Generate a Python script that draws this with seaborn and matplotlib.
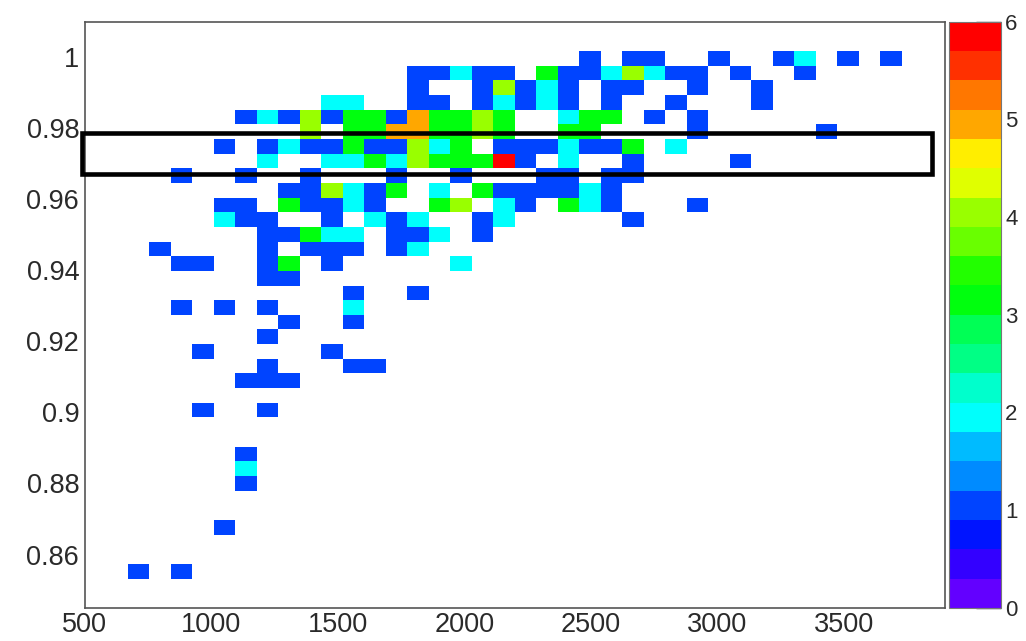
import colorsys

import numpy as np
import pandas as pd
import matplotlib
matplotlib.use("Agg")
import matplotlib.pyplot as plt
from matplotlib.colors import ListedColormap
from matplotlib.patches import Rectangle
from matplotlib.ticker import MultipleLocator, FuncFormatter, FixedLocator
import seaborn as sns

# ---- binning of the 2D histogram ----
x_min, x_max, n_xbins = 500, 3900, 40
y_min, y_max, n_ybins = 0.845, 1.01, 40

# bin contents, one string per y bin from the top bin down ('.' = empty),
# 40 x bins per string written in groups of ten
counts_rows = [
    ".......... .......... .......... ..........",  # 39
    ".......... .......... .......... ..........",  # 38
    ".......... .......... ...1.11..1 ..12.1.1..",  # 37
    ".......... .....11211 .31124211. 1..1......",  # 36
    ".......... .....1..14 121.11..1. .1........",  # 35
    ".......... .22..11.12 121.1..1.. .1........",  # 34
    ".......121 4133153343 ..233.1.1. ..........",  # 33
    ".......... 4.33553343 ..33....1. ....1.....",  # 32
    "......1.12 11311423.1 112113.2.. ..........",  # 31
    "........2. .223243336 1.2..1.... 1.........",  # 30
    "....1..1.. 1...1..1.. .11.11.... ..........",  # 29
    ".........1 14213.2.31 11121..... ..........",  # 28
    "......11.3 1121..34.2 1.321...1. ..........",  # 27
    "......211. .1.212..12 .....1.... ..........",  # 26
    "........11 322.112.1. .......... ..........",  # 25
    "...1....1. 111.12.... .......... ..........",  # 24
    "....11..13 .1.....2.. .......... ..........",  # 23
    "........11 .......... .......... ..........",  # 22
    ".......... ..1..1.... .......... ..........",  # 21
    "....1.1.1. ..2....... .......... ..........",  # 20
    ".........1 ..1....... .......... ..........",  # 19
    "........1. .......... .......... ..........",  # 18
    ".....1.... .1........ .......... ..........",  # 17
    "........1. ..11...... .......... ..........",  # 16
    ".......111 .......... .......... ..........",  # 15
    ".......... .......... .......... ..........",  # 14
    ".....1..1. .......... .......... ..........",  # 13
    ".......... .......... .......... ..........",  # 12
    ".......... .......... .......... ..........",  # 11
    ".......1.. .......... .......... ..........",  # 10
    ".......2.. .......... .......... ..........",  # 9
    ".......1.. .......... .......... ..........",  # 8
    ".......... .......... .......... ..........",  # 7
    ".......... .......... .......... ..........",  # 6
    "......1... .......... .......... ..........",  # 5
    ".......... .......... .......... ..........",  # 4
    ".......... .......... .......... ..........",  # 3
    "..1.1..... .......... .......... ..........",  # 2
    ".......... .......... .......... ..........",  # 1
    ".......... .......... .......... ..........",  # 0
]

x_ticks = [500, 1000, 1500, 2000, 2500, 3000, 3500]
y_ticks = [0.86, 0.88, 0.90, 0.92, 0.94, 0.96, 0.98, 1.00]
z_ticks = [0, 1, 2, 3, 4, 5, 6]
z_max = 6

# highlighted band (x0, x1, y0, y1)
band_x = (489, 3847)
band_y = (0.9672, 0.9788)

# ---- build the weighted bin centres ----
grid = np.array([[0 if ch == "." else int(ch) for ch in r.replace(" ", "")]
                 for r in counts_rows])[::-1]          # row 0 = lowest y bin
x_edges = np.linspace(x_min, x_max, n_xbins + 1)
y_edges = np.linspace(y_min, y_max, n_ybins + 1)
x_cent = 0.5 * (x_edges[:-1] + x_edges[1:])
y_cent = 0.5 * (y_edges[:-1] + y_edges[1:])
iy, ix = np.nonzero(grid)
df = pd.DataFrame({"x": x_cent[ix], "y": y_cent[iy], "n": grid[iy, ix]})

# ROOT-like "pretty" palette: 20 contour levels, hue 280 -> 0
n_levels, n_pal = 20, 50
pal_colors = []
for k in range(n_levels):
    idx = int((k + 0.99) * n_pal / n_levels)
    hue = 280.0 - (idx + 1) * (280.0 / n_pal)
    pal_colors.append(colorsys.hls_to_rgb(max(hue, 0) / 360.0, 0.5, 1.0))
cmap = ListedColormap(pal_colors)

# ---- figure ----
sns.set_style("white")
plt.rcParams["font.family"] = ["Liberation Sans", "DejaVu Sans"]
W, H = 1026, 641
fig = plt.figure(figsize=(W / 100, H / 100), dpi=100)
ax = fig.add_axes([84.7 / W, 1 - 607.8 / H, (945 - 84.7) / W, (607.8 - 21.8) / H])
cax = fig.add_axes([949 / W, 1 - 607.8 / H, 52 / W, (607.8 - 21.8) / H])

sns.histplot(df, x="x", y="y", weights="n", bins=[x_edges, y_edges],
             cmap=cmap, vmin=0, vmax=z_max, cbar=True, cbar_ax=cax, ax=ax)

ax.set_xlim(x_min, x_max)
ax.set_ylim(y_min, y_max)
ax.set_xlabel("")
ax.set_ylabel("")

text_color = "#2a2a2a"
ax.xaxis.set_major_locator(FixedLocator(x_ticks))
ax.xaxis.set_minor_locator(MultipleLocator(100))
ax.yaxis.set_major_locator(FixedLocator(y_ticks))
ax.yaxis.set_minor_locator(MultipleLocator(0.005))
ax.yaxis.set_major_formatter(FuncFormatter(lambda v, p: f"{v:g}"))
ax.xaxis.set_major_formatter(FuncFormatter(lambda v, p: f"{v:g}"))
ax.tick_params(axis="x", which="major", direction="in", length=12, width=1,
               labelsize=19.5, pad=3, colors="#555555", labelcolor=text_color)
ax.tick_params(axis="x", which="minor", direction="in", length=6, width=1,
               colors="#555555")
ax.tick_params(axis="y", which="major", direction="in", length=18.5, width=1,
               labelsize=19.5, pad=4, colors="#555555", labelcolor=text_color)
ax.tick_params(axis="y", which="minor", direction="in", length=9, width=1,
               colors="#555555")
for s in ax.spines.values():
    s.set_visible(True)
    s.set_color("#555555")
    s.set_linewidth(1.2)

# colour scale
cax.yaxis.set_major_locator(FixedLocator(z_ticks))
cax.yaxis.set_major_formatter(FuncFormatter(lambda v, p: f"{v:g}"))
cax.tick_params(axis="y", which="major", direction="in", length=18, width=1,
                labelsize=16, pad=3, colors="#333333", labelcolor=text_color)
cax.minorticks_off()
for s in cax.spines.values():
    s.set_color("#777777")

# highlighted band
ax.add_patch(Rectangle((band_x[0], band_y[0]), band_x[1] - band_x[0],
                       band_y[1] - band_y[0], fill=False, ec="black",
                       lw=3.3, clip_on=False, zorder=10))

fig.savefig("out.png", dpi=100)
